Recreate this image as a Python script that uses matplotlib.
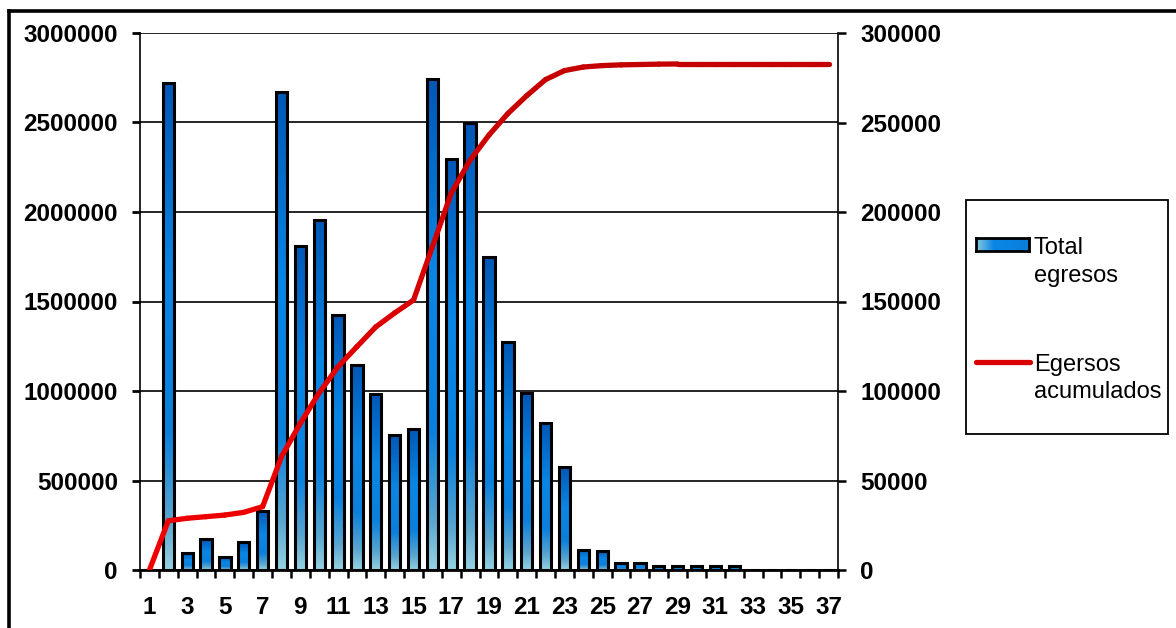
import numpy as np
import matplotlib
matplotlib.use('Agg')
import matplotlib.pyplot as plt
from matplotlib.colors import LinearSegmentedColormap, Normalize
from matplotlib.collections import LineCollection
from matplotlib.patches import Rectangle
from matplotlib.lines import Line2D
from matplotlib.ticker import FuncFormatter

semanas = np.arange(1, 38)
total_egresos = [0, 2720000, 93000, 171000, 70000, 154000, 331000, 2672000, 1812000, 1955000,
                 1425000, 1145000, 983000, 754000, 789000, 2743000, 2296000, 2495000, 1749000, 1274000,
                 989000, 821000, 577000, 112000, 106000, 39000, 37000, 22000, 20000, 20000,
                 20000, 20000, 0, 0, 0, 0, 0]
egresos_acumulados = [0, 27500, 28900, 29800, 30700, 32200, 35400, 63300, 82000, 99000,
                      113600, 124800, 135800, 143600, 150800, 180600, 210600, 229000, 243000, 255000,
                      265000, 274000, 279000, 281000, 281800, 282200, 282400, 282600, 282700, 282700,
                      282700, 282700, 282700, 282700, 282700, 282700, 282700]
ticks_izq = [0, 500000, 1000000, 1500000, 2000000, 2500000, 3000000]
ticks_der = [0, 50000, 100000, 150000, 200000, 250000, 300000]

plt.rcParams['font.family'] = ['Liberation Sans', 'DejaVu Sans']

W, H = 1176, 628
fig = plt.figure(figsize=(W / 100, H / 100), dpi=100)
ax = fig.add_axes([140 / W, 58 / H, 698 / W, 537 / H])

# barras con degradado: claro abajo, azul intenso arriba
azules = LinearSegmentedColormap.from_list('azules', [
    (0.0, '#95d2e2'), (0.1, '#5aa6cf'), (0.28, '#0b80dc'),
    (0.6, '#0a86e4'), (1.0, '#0057b6')])
barras = ax.bar(semanas, total_egresos, width=0.6, facecolor='none',
                edgecolor='black', linewidth=2.2, zorder=3)
grad = np.linspace(0, 1, 256).reshape(-1, 1)
for b in barras:
    h = b.get_height()
    if h <= 0:
        continue
    x0 = b.get_x()
    im = ax.imshow(grad, cmap=azules, origin='lower', aspect='auto',
                   extent=[x0, x0 + b.get_width(), 0, h], zorder=2.9,
                   interpolation='bilinear')
    im.set_clip_path(b)

ax.set_xlim(0.5, 37.5)
ax.set_ylim(0, 3000000)
ax.set_yticks(ticks_izq)
ax.yaxis.set_major_formatter(FuncFormatter(lambda v, p: '%d' % v))
ax.grid(axis='y', color='black', lw=1.2)
ax.set_axisbelow(True)
ax.set_xticks(semanas[::2])
ax.set_xticklabels([str(s) for s in semanas[::2]])
ax.set_xticks(np.arange(0.5, 38, 1), minor=True)
ax.tick_params(axis='x', which='major', length=0, pad=19)
ax.tick_params(axis='x', which='minor', length=6, width=1.8, direction='out')
ax.tick_params(axis='y', length=6, width=2, direction='out', pad=10)
for lab in ax.get_xticklabels() + ax.get_yticklabels():
    lab.set_fontsize(17.5)
    lab.set_fontweight('bold')
ax.spines['top'].set_visible(False)
ax.spines['right'].set_visible(False)
ax.spines['left'].set_linewidth(1.2)
ax.spines['bottom'].set_linewidth(2)

# eje secundario con la curva acumulada
ax2 = ax.twinx()
ax2.set_ylim(0, 300000)
ax2.set_yticks(ticks_der)
ax2.yaxis.set_major_formatter(FuncFormatter(lambda v, p: '%d' % v))
ax2.tick_params(axis='y', length=6, width=1.8, direction='out', pad=10)
for lab in ax2.get_yticklabels():
    lab.set_fontsize(17.5)
    lab.set_fontweight('bold')
for s in ['top', 'left', 'bottom']:
    ax2.spines[s].set_visible(False)
ax2.spines['right'].set_linewidth(1.2)

rojos = LinearSegmentedColormap.from_list('rojos', ['#f20000', '#c20000'])
pts = np.column_stack([semanas, egresos_acumulados])
segs = np.stack([pts[:-1], pts[1:]], axis=1)
medios = (np.array(egresos_acumulados[:-1]) + np.array(egresos_acumulados[1:])) / 2
lc = LineCollection(segs, cmap=rojos, norm=Normalize(0, 300000), linewidths=3.8,
                    capstyle='round', joinstyle='round')
lc.set_array(medios)
ax2.add_collection(lc)

# marco exterior
fig.add_artist(Line2D([9 / W, 1.0], [1 - 11 / H, 1 - 11 / H], color='black', lw=2.6,
                      transform=fig.transFigure))
fig.add_artist(Line2D([9 / W, 9 / W], [0, 1 - 11 / H], color='black', lw=2.6,
                      transform=fig.transFigure))

# leyenda
fig.add_artist(Rectangle((966 / W, 1 - 434 / H), 202 / W, 234 / H, fill=False,
                         edgecolor='black', lw=1.3, transform=fig.transFigure))
ax_ley = fig.add_axes([976 / W, 1 - 251 / H, 53 / W, 13 / H])
ax_ley.imshow(grad.T, cmap=LinearSegmentedColormap.from_list(
    'ley', ['#8ccbe0', '#0a86e4', '#0a84e2', '#0a7cd8']), aspect='auto',
    interpolation='bilinear')
ax_ley.set_xticks([])
ax_ley.set_yticks([])
for s in ax_ley.spines.values():
    s.set_linewidth(2)
fig.add_artist(Line2D([976 / W, 1030 / W], [1 - 362 / H, 1 - 362 / H], color='#d80000',
                      lw=3.8, solid_capstyle='round', transform=fig.transFigure))
for txt, yb in [('Total', 254), ('egresos', 282), ('Egersos', 371), ('acumulados', 398)]:
    fig.text(1034 / W, 1 - yb / H, txt, fontsize=17, va='baseline', ha='left')

fig.savefig('out.png', dpi=100)
